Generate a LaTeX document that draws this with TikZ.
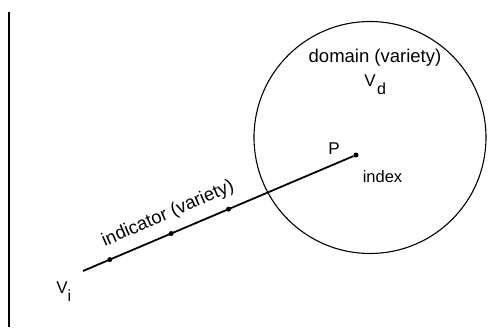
\documentclass[tikz,border=0pt]{standalone}
\usepackage{fontspec}
\setmainfont{Liberation Sans}
\begin{document}
\begin{tikzpicture}[x=1pt,y=-1pt,
  lbl/.style={font=\fontsize{18.5}{20}\selectfont, inner sep=0pt},
  biglbl/.style={font=\fontsize{17}{19}\selectfont, inner sep=0pt},
  sub/.style={font=\fontsize{16}{18}\selectfont, inner sep=0pt},
  dot/.style={circle, fill, inner sep=0pt, minimum size=5pt}]
\useasboundingbox (0,0) rectangle (499,329);
% left border rule
\draw[line width=1.5pt] (9,12) -- (9,327);
% domain variety
\node[circle, draw, line width=1.1pt, minimum size=232pt, inner sep=0pt] (dom) at (370,137.5) {};
\node[lbl] (domlbl) at (375,58) {domain (variety)};
\node[biglbl] (vd) at (370,81) {V};
\node[sub] (vdsub) at (381.5,89) {d};
% indicator variety line ending at the index point P
\coordinate (vi) at (83,271);
\node[dot] (p) at (356,155) {};
\draw[line width=1.8pt] (vi) -- (p)
  node[dot, pos=0.099] (d1) {}
  node[dot, pos=0.326] (d2) {}
  node[dot, pos=0.538] (d3) {};
\node[lbl, rotate=23.5] (indlbl) at (168,214) {indicator (variety)};
\node[biglbl] (plbl) at (334,149) {P};
\node[font=\fontsize{16.5}{18}\selectfont, inner sep=0pt] (idx) at (382.5,177) {index};
\node[biglbl] (vilbl) at (62,287.5) {V};
\node[sub] (visub) at (69.5,295.5) {i};
\end{tikzpicture}
\end{document}
